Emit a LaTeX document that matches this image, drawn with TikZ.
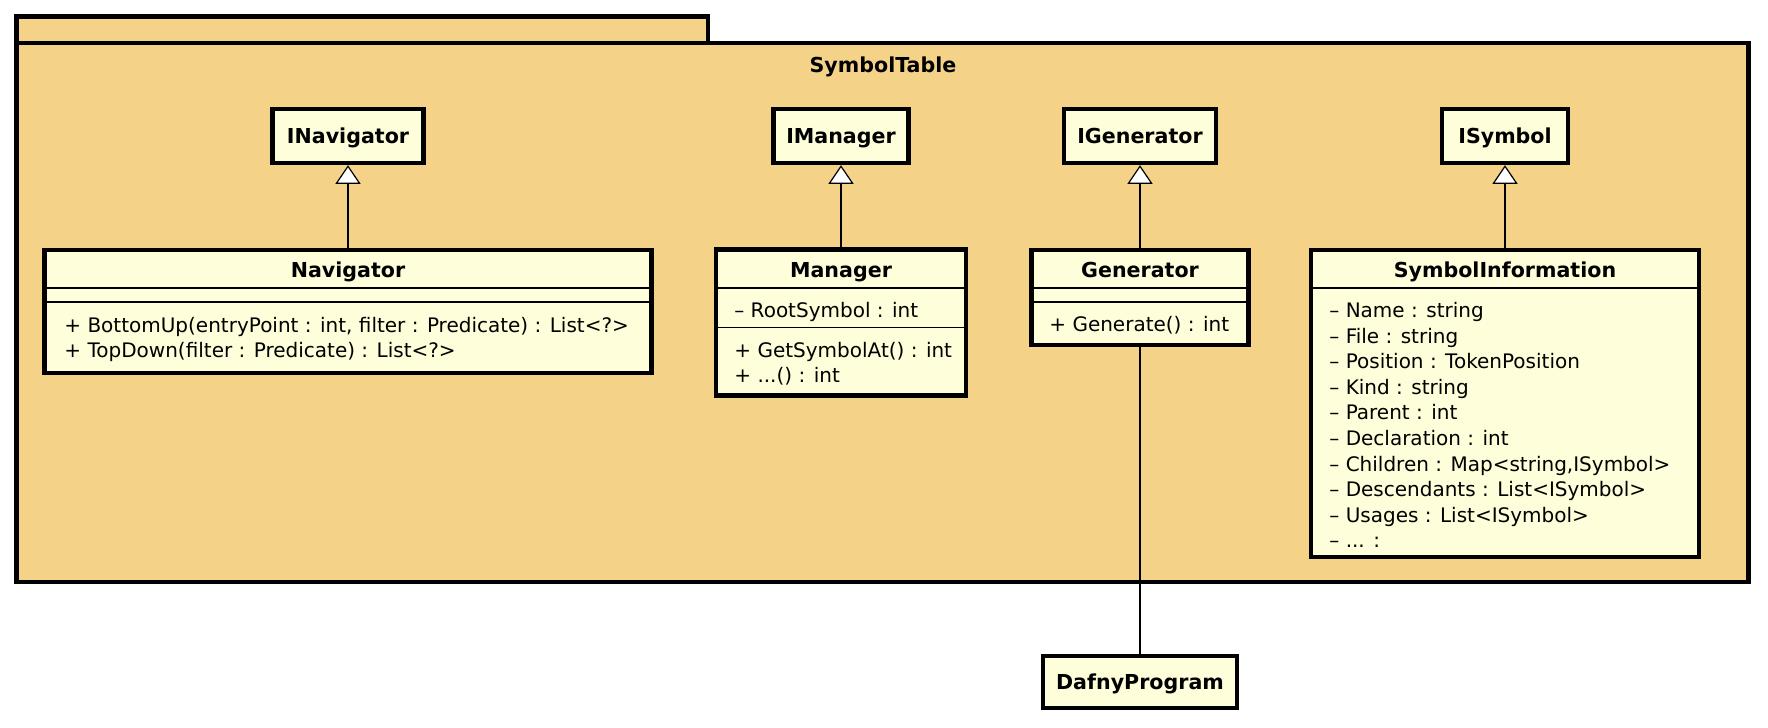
\documentclass[tikz,border=0pt]{standalone}
\usepackage{fontspec}
\setmainfont{DejaVu Sans}
\usetikzlibrary{arrows.meta}
\definecolor{pkgfill}{RGB}{244,211,137}
\definecolor{clsfill}{RGB}{254,254,218}
\begin{document}
\begin{tikzpicture}[x=0.5pt,y=-0.5pt,
  pkg/.style={draw=black, line width=2.2pt, fill=pkgfill},
  cls/.style={draw=black, line width=2.2pt, fill=clsfill, inner sep=0pt, outer sep=0pt},
  ttl/.style={anchor=base, inner sep=0pt, font=\fontsize{10.3}{12.8}\bfseries\selectfont},
  mem/.style={anchor=base west, inner sep=0pt, font=\fontsize{10}{12.8}\selectfont},
  sepl/.style={line width=0.75pt},
  inh/.style={line width=0.7pt, shorten >=1.1pt, -{Triangle[open, fill=white, width=12.5pt, length=9.3pt, line width=0.6pt]}},
  assoc/.style={line width=0.7pt}]
\fill[white] (0,0) rectangle (1768,728);
\useasboundingbox (0,0) rectangle (1768,728);
% package
\draw[pkg] (16.5,16.5) rectangle (708,43);
\draw[pkg] (16.5,43) rectangle (1748.5,582);
\node[ttl] (pkgname) at (883,72.5) {SymbolTable};
% interfaces
\node[cls, minimum width=75.5pt, minimum height=27pt] (inav) at (348,136) {};
\node[ttl] (inavt) at (348,143.5) {INavigator};
\node[cls, minimum width=67.5pt, minimum height=27pt] (iman) at (841,136) {};
\node[ttl] (imant) at (841,143.5) {IManager};
\node[cls, minimum width=76pt, minimum height=27pt] (igen) at (1140,136) {};
\node[ttl] (igent) at (1140,143.5) {IGenerator};
\node[cls, minimum width=63pt, minimum height=27pt] (isym) at (1505,136) {};
\node[ttl] (isymt) at (1505,143.5) {ISymbol};
% Navigator
\node[cls, minimum width=303.5pt, minimum height=61.5pt] (nav) at (348,311.5) {};
\node[ttl] (navt) at (348,277.5) {Navigator};
\draw[sepl] (nav.west |- 0,288) -- (nav.east |- 0,288);
\draw[sepl] (nav.west |- 0,302) -- (nav.east |- 0,302);
\node[mem] (navm1) at (64,332) {+ BottomUp(entryPoint : int, filter : Predicate) : List<?>};
\node[mem] (navm2) at (64,357.7) {+ TopDown(filter : Predicate) : List<?>};
% Manager
\node[cls, minimum width=125pt, minimum height=73pt] (man) at (841,322.5) {};
\node[ttl] (mant) at (841,277.5) {Manager};
\draw[sepl] (man.west |- 0,288) -- (man.east |- 0,288);
\draw[sepl] (man.west |- 0,327.5) -- (man.east |- 0,327.5);
\node[mem] (mana1) at (734,317.5) {– RootSymbol : int};
\node[mem] (manm1) at (734,357) {+ GetSymbolAt() : int};
\node[mem] (manm2) at (734,382.6) {+ ...() : int};
% Generator
\node[cls, minimum width=108.5pt, minimum height=47.5pt] (gen) at (1140,297.5) {};
\node[ttl] (gent) at (1140,277.5) {Generator};
\draw[sepl] (gen.west |- 0,288) -- (gen.east |- 0,288);
\draw[sepl] (gen.west |- 0,302) -- (gen.east |- 0,302);
\node[mem] (genm1) at (1049,331.5) {+ Generate() : int};
% SymbolInformation
\node[cls, minimum width=194pt, minimum height=153.5pt] (syminfo) at (1505,403.5) {};
\node[ttl] (syminfot) at (1505,277.5) {SymbolInformation};
\draw[sepl] (syminfo.west |- 0,288) -- (syminfo.east |- 0,288);
\node[mem] (sia0) at (1329,317.5) {– Name : string};
\node[mem] (sia1) at (1329,343.1) {– File : string};
\node[mem] (sia2) at (1329,368.7) {– Position : TokenPosition};
\node[mem] (sia3) at (1329,394.3) {– Kind : string};
\node[mem] (sia4) at (1329,419.9) {– Parent : int};
\node[mem] (sia5) at (1329,445.5) {– Declaration : int};
\node[mem] (sia6) at (1329,471.1) {– Children : Map<string,ISymbol>};
\node[mem] (sia7) at (1329,496.7) {– Descendants : List<ISymbol>};
\node[mem] (sia8) at (1329,522.3) {– Usages : List<ISymbol>};
\node[mem] (sia9) at (1329,547.9) {– ... :};
% DafnyProgram
\node[cls, minimum width=97pt, minimum height=26pt] (dafny) at (1140,682) {};
\node[ttl] (dafnyt) at (1140,689.5) {DafnyProgram};
% connectors
\draw[inh] (nav.north) -- (inav.south);
\draw[inh] (man.north) -- (iman.south);
\draw[inh] (gen.north) -- (igen.south);
\draw[inh] (syminfo.north) -- (isym.south);
\draw[assoc] (gen.south) -- (dafny.north);
\end{tikzpicture}
\end{document}
